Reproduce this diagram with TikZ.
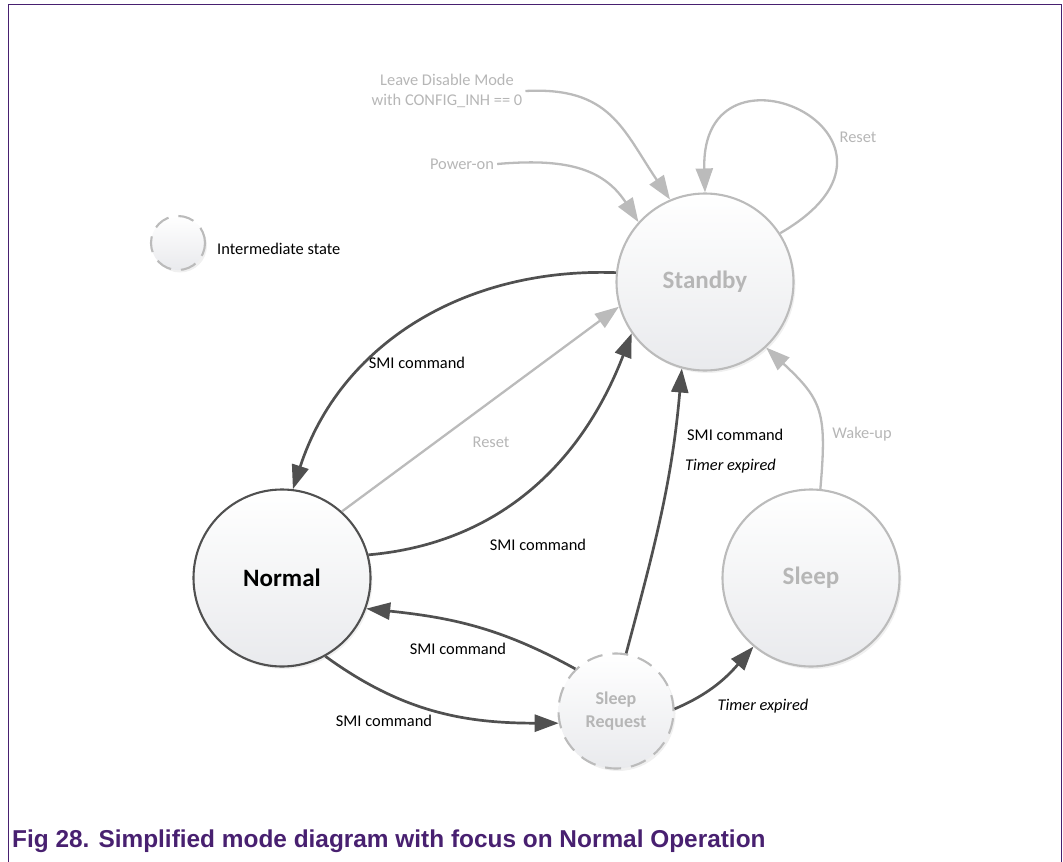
\documentclass[tikz,border=0pt]{standalone}
\usepackage{fontspec}
\setmainfont{Carlito}
\newfontfamily\capfont{Liberation Sans}
\usetikzlibrary{arrows.meta,shadows}
\definecolor{darkc}{RGB}{80,80,80}
\definecolor{lightc}{RGB}{187,187,187}
\definecolor{ltext}{RGB}{182,182,182}
\definecolor{purp}{RGB}{72,32,112}
\definecolor{fillbot}{RGB}{233,234,237}
\begin{document}
\begin{tikzpicture}[x=1pt,y=1pt,
  state/.style={circle, line width=2.1pt, top color=white, bottom color=fillbot,
    drop shadow={shadow xshift=2pt,shadow yshift=-2.5pt,opacity=0.12}, inner sep=0pt},
  bigstate/.style={state, minimum size=177pt, font=\fontsize{25}{30}\selectfont\bfseries},
  darkstate/.style={draw=darkc, text=black},
  lightstate/.style={draw=lightc, text=ltext},
  interstate/.style={state, draw=lightc, text=ltext, dash pattern=on 16pt off 10pt,
    font=\fontsize{18}{23}\selectfont\bfseries, align=center},
  darkarrow/.style={draw=darkc, line width=2.7pt, -{Triangle[length=24pt,width=17pt]}},
  lightarrow/.style={draw=lightc, line width=2.3pt, -{Triangle[length=24pt,width=17pt]}},
  lbl/.style={font=\fontsize{16.4}{20}\selectfont, text=black, inner sep=3pt},
  llbl/.style={lbl, text=ltext},
  ilbl/.style={lbl, font=\fontsize{16.4}{20}\selectfont\itshape}
]
\useasboundingbox (0,0) rectangle (1063,-862);
% frame
\draw[purp, line width=1.4pt] (8.3,-870) -- (8.3,-4.3) -- (1061.3,-4.3) -- (1061.3,-870);

% states
\node[bigstate, lightstate] (standby) at (705,-282) {Standby};
\node[bigstate, darkstate] (normal) at (282,-578) {Normal};
\node[bigstate, lightstate] (sleep) at (811,-578) {Sleep};
\node[interstate, minimum size=115pt] (sr) at (616,-711) {Sleep\\Request};

% legend
\node[interstate, minimum size=54pt] (legend) at (178,-243) {};
\node[lbl, anchor=west] (legendtext) at (214,-249) {Intermediate state};

% entry transitions
\node[llbl, align=center] (leave) at (447,-91) {Leave Disable Mode\\with CONFIG\_INH == 0};
\draw[lightarrow] (leave.east) to[out=3,in=124,looseness=1.2] (standby.113);
\node[llbl] (poweron) at (462,-164) {Power-on};
\draw[lightarrow] (poweron.east) to[out=5,in=123,looseness=1.1] (standby.138);

% reset loop
\draw[lightarrow] (standby.33) .. controls +(30:190) and +(-5,168) .. (standby.90);
\node[llbl] (resetloop) at (858,-137) {Reset};

% Standby -> Normal
\draw[darkarrow] (standby.174) to[out=178,in=72] (normal.83);
\node[lbl] (smi1) at (417,-363) {SMI command};

% Normal -> Standby (reset)
\draw[lightarrow] (normal.48) -- (standby.196);
\node[llbl] (reset2) at (491,-442) {Reset};

% Normal -> Standby (SMI)
\draw[darkarrow] (normal.15) to[out=5,in=249] (standby.215);
\node[lbl] (smi2) at (538,-545) {SMI command};

% Sleep Request -> Standby
\draw[darkarrow] (sr.80) to[out=75,in=265] (standby.255);
\node[lbl, anchor=west] (smi3) at (684,-435) {SMI command};
\node[ilbl, anchor=west] (timer1) at (682,-466) {Timer expired};

% Sleep -> Standby
\draw[lightarrow] (sleep.84) to[out=85,in=317,looseness=1.3] (standby.313);
\node[llbl] (wake) at (862,-434) {Wake-up};

% Sleep Request -> Normal
\draw[darkarrow] (sr.134) to[out=151,in=-6] (normal.-20);
\node[lbl] (smi4) at (458,-649) {SMI command};

% Normal -> Sleep Request
\draw[darkarrow] (normal.-61) to[out=-36,in=180] (sr.192);
\node[lbl] (smi5) at (384,-721) {SMI command};

% Sleep Request -> Sleep
\draw[darkarrow] (sr.2) to[out=23,in=229] (sleep.230);
\node[ilbl] (timer2) at (763,-706) {Timer expired};

% caption
\node[anchor=base west, text=purp, inner sep=0pt,
  font=\capfont\fontsize{24.4}{28}\selectfont\bfseries] (caption) at (12,-847)
  {Fig 28. Simplified mode diagram with focus on Normal Operation};
\end{tikzpicture}
\end{document}
